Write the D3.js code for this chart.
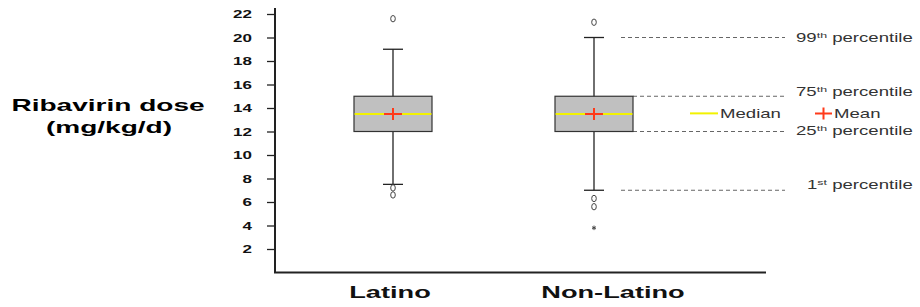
<!DOCTYPE html>
<html>
<head>
<meta charset="utf-8">
<script src="https://cdn.jsdelivr.net/npm/d3@7"></script>
<style>
  body { margin: 0; background: #fff; }
  text { font-family: "Liberation Sans", Arial, sans-serif; }
</style>
</head>
<body>
<svg width="920" height="307"></svg>
<script>
// data
const groups = ["Latino", "Non-Latino"];
const q1 = [12, 12];
const median = [13.5, 13.5];
const q3 = [15, 15];
const mean = [13.5, 13.5];
const whiskerLow = [7.5, 7];
const whiskerHigh = [19, 20];
const outliers = [[21.6, 7.2, 6.6], [21.3, 6.3, 5.6]];
const extremes = [[], [3.8]];
const yTicks = [2, 4, 6, 8, 10, 12, 14, 16, 18, 20, 22];
const refLines = [
  { v: 20, num: "99", sup: "th" },
  { v: 15, num: "75", sup: "th" },
  { v: 12, num: "25", sup: "th" },
  { v: 7, num: "1", sup: "st" }
];

const svg = d3.select("svg");
const axisX = 275, axisBottom = 272.5, axisTop = 8;
const boxW = 78, capW = 20;
const boldK = 1.7, regK = 1.55;

const y = d3.scaleLinear().domain([0, 22]).range([axisBottom, 14]);
const x = d3.scalePoint().domain(groups).range([393, 594]);
const labelX = d3.scalePoint().domain(groups).range([390, 613]);

// stretched text helper (the source is horizontally stretched)
function stext(parent, tx, ty, k) {
  return parent.append("g")
    .attr("transform", `translate(${tx},${ty}) scale(${k},1)`)
    .append("text");
}

// axes
svg.append("line")
  .attr("x1", axisX).attr("x2", axisX)
  .attr("y1", axisTop).attr("y2", axisBottom)
  .attr("stroke", "#222").attr("stroke-width", 2);
svg.append("line")
  .attr("x1", axisX - 1).attr("x2", 766)
  .attr("y1", axisBottom).attr("y2", axisBottom)
  .attr("stroke", "#222").attr("stroke-width", 2);

const yAxis = svg.append("g")
  .attr("transform", `translate(${axisX},0)`)
  .call(d3.axisLeft(y).tickValues(yTicks).tickSize(8));
yAxis.select(".domain").remove();
yAxis.selectAll(".tick line").attr("stroke", "#222").attr("stroke-width", 1.3);
yAxis.selectAll(".tick text")
  .attr("x", 0)
  .attr("dy", "0.36em")
  .attr("transform", `translate(-23,0) scale(${boldK},1)`)
  .attr("font-size", 10)
  .attr("font-weight", "bold")
  .attr("fill", "#111");

// y title
const t1 = stext(svg, 108, 111, boldK);
t1.attr("text-anchor", "middle").attr("font-size", 16.5).attr("font-weight", "bold").text("Ribavirin dose");
const t2 = stext(svg, 109, 133, boldK);
t2.attr("text-anchor", "middle").attr("font-size", 16.5).attr("font-weight", "bold").text("(mg/kg/d)");

// category labels
groups.forEach(g => {
  stext(svg, labelX(g), 298, boldK)
    .attr("text-anchor", "middle")
    .attr("font-size", 16)
    .attr("font-weight", "bold")
    .attr("fill", "#111")
    .text(g);
});

// reference dashed lines
const lastBox = x(groups[1]);
refLines.forEach((r, i) => {
  const inner = (r.num === "75" || r.num === "25");
  svg.append("line")
    .attr("x1", inner ? lastBox + boxW / 2 : lastBox + 27)
    .attr("x2", 785)
    .attr("y1", y(r.v)).attr("y2", y(r.v))
    .attr("stroke", "#666").attr("stroke-width", 1)
    .attr("stroke-dasharray", "4,3");
  const dy = [4, -0.5, 3, -1][i];
  const tx = r.num.length === 1 ? 807 : 796;
  const t = stext(svg, tx, y(r.v) + dy, regK)
    .attr("font-size", 12).attr("fill", "#333");
  t.append("tspan").text(r.num);
  t.append("tspan").attr("font-size", 8).attr("dy", -4).text(r.sup);
  t.append("tspan").attr("dy", 4).text(" percentile");
});

// boxes
const bg = svg.append("g");
groups.forEach((g, i) => {
  const cx = x(g);
  // whisker
  bg.append("line")
    .attr("x1", cx).attr("x2", cx)
    .attr("y1", y(whiskerHigh[i])).attr("y2", y(whiskerLow[i]))
    .attr("stroke", "#222").attr("stroke-width", 1.3);
  [whiskerHigh[i], whiskerLow[i]].forEach(v => {
    bg.append("line")
      .attr("x1", cx - capW / 2).attr("x2", cx + capW / 2)
      .attr("y1", y(v)).attr("y2", y(v))
      .attr("stroke", "#222").attr("stroke-width", 1.3);
  });
  bg.append("rect")
    .attr("x", cx - boxW / 2).attr("width", boxW)
    .attr("y", y(q3[i])).attr("height", y(q1[i]) - y(q3[i]))
    .attr("fill", "#c0c0c0").attr("stroke", "#333").attr("stroke-width", 1.2);
  bg.append("line")
    .attr("x1", cx - boxW / 2 + 0.6).attr("x2", cx + boxW / 2 - 0.6)
    .attr("y1", y(median[i])).attr("y2", y(median[i]))
    .attr("stroke", "#f2f200").attr("stroke-width", 2);
  // mean cross
  bg.append("path")
    .attr("d", `M${cx - 9},${y(mean[i])}H${cx + 9}M${cx},${y(mean[i]) - 6}V${y(mean[i]) + 6}`)
    .attr("stroke", "#ff3a1a").attr("stroke-width", 2).attr("fill", "none");
  // outliers
  outliers[i].forEach(v => {
    bg.append("ellipse")
      .attr("cx", cx).attr("cy", y(v))
      .attr("rx", 2.3).attr("ry", 3.2)
      .attr("fill", "none").attr("stroke", "#444").attr("stroke-width", 1);
  });
  extremes[i].forEach(v => {
    bg.append("path")
      .attr("transform", `translate(${cx},${y(v)})`)
      .attr("d", d3.symbol(d3.symbolAsterisk, 14)())
      .attr("fill", "none").attr("stroke", "#444").attr("stroke-width", 1);
  });
});

// legend
const ly = y(median[0]) - 0.5;
svg.append("line")
  .attr("x1", 690).attr("x2", 718).attr("y1", ly).attr("y2", ly)
  .attr("stroke", "#f2f200").attr("stroke-width", 2);
stext(svg, 720, ly + 4.5, regK).attr("font-size", 12).attr("fill", "#333").text("Median");
svg.append("path")
  .attr("d", `M${815},${ly}H${832}M${823.5},${ly - 6}V${ly + 6}`)
  .attr("stroke", "#ff3a1a").attr("stroke-width", 2).attr("fill", "none");
stext(svg, 834, ly + 4.5, regK).attr("font-size", 12).attr("fill", "#333").text("Mean");
</script>
</body>
</html>
